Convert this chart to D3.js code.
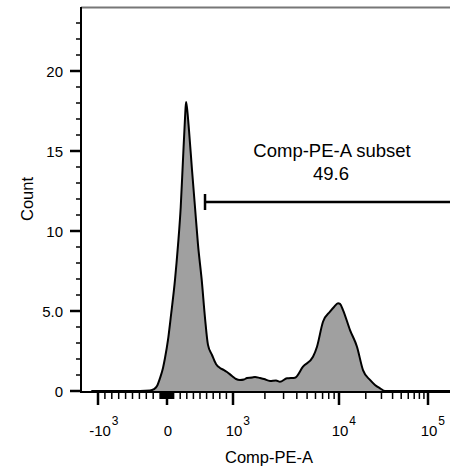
<!DOCTYPE html>
<html><head><meta charset="utf-8">
<script src="https://cdn.jsdelivr.net/npm/d3@7"></script>
<style>
body{margin:0;background:#fff}
svg{display:block}
text{font-family:"Liberation Sans",Arial,sans-serif;fill:#000}
</style>
</head><body>
<svg id="c" width="450" height="471"></svg>
<script>
// ---- data (fluorescence value of each bin, event count) ----
const binValues = [-1250,-391,-246,-188,-145,-101,-58,-29,15,61,121,167,208,242,273,288,303,333,379,424,470,526,576,621,682,742,803,864,909,985,1067,1164,1270,1355,1510,1613,1798,1961,2235,2545,2775,3228,3843,4574,5685,6200,7063,8226,8970,9790,10260,11090,13300,15920,18600,22300,25380,28900,32900,180000];
const counts    = [0,0,0.03,0.12,0.31,0.81,1.44,2.06,3.19,4.75,6.94,9.13,11.5,14.44,17.06,18.06,17.69,16.31,13.81,11.5,9.13,6.94,4.56,2.88,2.25,1.69,1.44,1.31,1.19,0.94,0.75,0.69,0.72,0.81,0.84,0.88,0.81,0.75,0.63,0.66,0.58,0.79,0.83,1.52,2.14,2.77,4.33,4.96,5.25,5.48,5.44,5.06,3.81,2.77,1.31,0.69,0.38,0.17,0,0];

const yTickValues = [0,5,10,15,20];
const yTickLabels = ["0","5.0","10","15","20"];
const xMajorValues = [-1000,0,1000,10000,100000];
const xMajorBase   = ["-10","0","10","10","10"];
const xMajorExp    = ["3","","3","4","5"];
const gateRange = [576, 262144];
const gateName = "Comp-PE-A subset";
const gatePercent = "49.6";
const xTitle = "Comp-PE-A";
const yTitle = "Count";

(function(){
// ---- layout ----
const mLeft = 81, mRight = 450, mTop = 7, base = 391, axisY = 392;

// biexponential-like display: linear within ±1000, log above
const toDec = v => Math.abs(v) <= 1000 ? v/1000 : Math.sign(v)*(1+Math.log10(Math.abs(v)/1000));
const xDec = d3.scaleLinear().domain([-1,0,1,2,3]).range([98,167,233,339,428]);
const x = v => xDec(toDec(v));
const y = d3.scaleLinear().domain([0,24]).range([base, mTop]);

const svg = d3.select("#c");

// histogram
const pts = binValues.map((v,i)=>({v, c: counts[i]}));
const g = svg.append("g");
g.append("path").datum(pts)
  .attr("d", d3.area().x(d=>x(d.v)).y0(y(0)).y1(d=>y(d.c)).curve(d3.curveMonotoneX))
  .attr("fill","#a0a0a0");
g.append("path").datum(pts)
  .attr("d", d3.line().x(d=>x(d.v)).y(d=>y(d.c)).curve(d3.curveMonotoneX))
  .attr("fill","none").attr("stroke","#000").attr("stroke-width",2).attr("stroke-linejoin","round");

// top border
svg.append("line").attr("x1",mLeft).attr("x2",mRight).attr("y1",mTop+0.5).attr("y2",mTop+0.5)
  .attr("stroke","#777").attr("stroke-width",2);

// y axis
svg.append("line").attr("x1",mLeft).attr("x2",mLeft).attr("y1",mTop).attr("y2",axisY+1)
  .attr("stroke","#000").attr("stroke-width",2);
const yMinor = d3.range(1,24).filter(v=>v%5!==0);
svg.selectAll(".ymin").data(yMinor).join("line")
  .attr("x1",mLeft-5).attr("x2",mLeft).attr("y1",d=>y(d)).attr("y2",d=>y(d))
  .attr("stroke","#000").attr("stroke-width",1.5);
svg.selectAll(".ymaj").data(yTickValues).join("line")
  .attr("x1",mLeft-11).attr("x2",mLeft).attr("y1",d=>y(d)).attr("y2",d=>y(d))
  .attr("stroke","#000").attr("stroke-width",2.5);
svg.selectAll(".ylab").data(yTickValues).join("text")
  .attr("x",63).attr("y",d=>y(d)+5.5).attr("text-anchor","end")
  .attr("font-size",15).text((d,i)=>yTickLabels[i]);

// x axis
svg.append("line").attr("x1",mLeft-1).attr("x2",mRight).attr("y1",axisY).attr("y2",axisY)
  .attr("stroke","#000").attr("stroke-width",2);
let xMinor = [];
for (let k=1;k<10;k++){ xMinor.push(-k*100, -k*10, k*10, k*100, k*1000, k*10000, k*100000); }
xMinor = xMinor.filter(v=>!xMajorValues.includes(v) && x(v)>=mLeft && x(v)<=mRight);
svg.selectAll(".xmin").data(xMinor).join("line")
  .attr("x1",d=>x(d)).attr("x2",d=>x(d)).attr("y1",axisY).attr("y2",axisY+7)
  .attr("stroke","#000").attr("stroke-width",1.5);
svg.selectAll(".xmaj").data(xMajorValues).join("line")
  .attr("x1",d=>x(d)).attr("x2",d=>x(d)).attr("y1",axisY).attr("y2",axisY+13)
  .attr("stroke","#000").attr("stroke-width",2.5);
xMajorValues.forEach((v,i)=>{
  const cx = x(v) + (i===0?2:1);
  const t = svg.append("text").attr("x",cx).attr("y",436)
    .attr("text-anchor","middle").attr("font-size",15).text(xMajorBase[i]);
  if (xMajorExp[i]) {
    const w = t.node().getComputedTextLength();
    svg.append("text").attr("x",cx+w/2+1).attr("y",425)
      .attr("font-size",12).text(xMajorExp[i]);
  }
});

// titles
svg.append("text").attr("x",269).attr("y",463).attr("text-anchor","middle")
  .attr("font-size",16.5).text(xTitle);
svg.append("text").attr("transform","translate(33,199) rotate(-90)").attr("text-anchor","middle")
  .attr("font-size",16.5).text(yTitle);

// gate
const gy = 202;
const gx0 = x(gateRange[0]), gx1 = Math.min(mRight, x(gateRange[1]));
svg.append("line").attr("x1",gx0).attr("x2",gx1).attr("y1",gy).attr("y2",gy)
  .attr("stroke","#000").attr("stroke-width",2.5);
svg.append("line").attr("x1",gx0).attr("x2",gx0).attr("y1",gy-8).attr("y2",gy+8)
  .attr("stroke","#000").attr("stroke-width",2.5);
svg.append("text").attr("x",332).attr("y",157).attr("text-anchor","middle")
  .attr("font-size",18.5).text(gateName);
svg.append("text").attr("x",331).attr("y",180).attr("text-anchor","middle")
  .attr("font-size",18.5).text(gatePercent);
})();
</script>
</body></html>
